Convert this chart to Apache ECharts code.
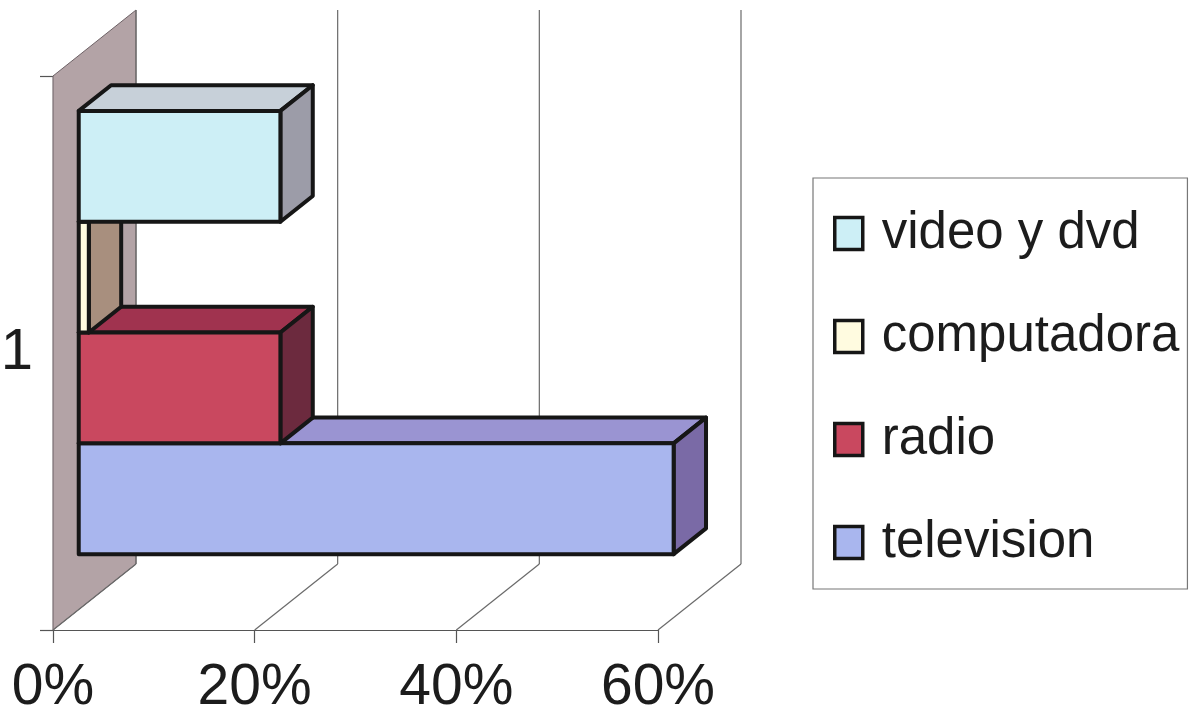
<!DOCTYPE html>
<html>
<head>
<meta charset="utf-8">
<script src="https://cdn.jsdelivr.net/npm/echarts@6/dist/echarts.min.js"></script>
<style>
  html, body { margin: 0; padding: 0; background: #fff; }
  #chart { width: 1195px; height: 724px; }
</style>
</head>
<body>
<div id="chart"></div>
<script>
// datos del grafico
const categories = ['1']
const seriesNames = ['television', 'radio', 'computadora', 'video y dvd']
const seriesValues = [0.59, 0.20, 0.01, 0.20]
const legendOrder = ['video y dvd', 'computadora', 'radio', 'television']
const tickValues = [0, 0.2, 0.4, 0.6]

// colores: frente, arriba, lado
const faceColors = {
  'television': ['#a9b6ee', '#9a94d2', '#7a6aa6'],
  'radio': ['#c9485f', '#a0334f', '#6c2a3e'],
  'computadora': ['#fffbe0', '#d8ccb0', '#a88f7e'],
  'video y dvd': ['#cdeff6', '#c7d0d9', '#9c9ca8']
}

// profundidad 3D (px)
const DEPTH = [83, -66]
const FRONT = 0.31
const BACK = 0.70

const chart = echarts.init(document.getElementById('chart'))

const barSeries = seriesNames.map((name, i) => ({
  name,
  type: 'custom',
  z: 3,
  itemStyle: { color: faceColors[name][0] },
  data: [[seriesValues[i], 0]],
  encode: { x: 0, y: 1 },
  renderItem: (params, api) => {
    const v = api.value(0)
    const p0 = api.coord([0, 0])
    const p1 = api.coord([v, 0])
    const band = api.size([0, 1])[1]
    const slot = legendOrder.indexOf(name)
    const fx = FRONT * DEPTH[0], fy = FRONT * DEPTH[1]
    const dx = (BACK - FRONT) * DEPTH[0], dy = (BACK - FRONT) * DEPTH[1]
    const x0 = p0[0] + fx
    const x1 = p1[0] + fx
    const y0 = p0[1] - 0.4 * band + slot * 0.2 * band + fy
    const y1 = y0 + 0.2 * band
    const c = faceColors[name]
    const stroke = { stroke: '#161616', lineWidth: 4, lineJoin: 'round' }
    return {
      type: 'group',
      children: [
        {
          type: 'polygon',
          shape: { points: [[x0, y0], [x1, y0], [x1 + dx, y0 + dy], [x0 + dx, y0 + dy]] },
          style: Object.assign({ fill: c[1] }, stroke)
        },
        {
          type: 'polygon',
          shape: { points: [[x1, y0], [x1 + dx, y0 + dy], [x1 + dx, y1 + dy], [x1, y1]] },
          style: Object.assign({ fill: c[2] }, stroke)
        },
        {
          type: 'rect',
          shape: { x: x0, y: y0, width: x1 - x0, height: y1 - y0 },
          style: Object.assign({ fill: c[0] }, stroke)
        }
      ]
    }
  }
}))

// paredes y lineas de fondo
const wallSeries = {
  name: 'walls',
  type: 'custom',
  z: 1,
  silent: true,
  data: tickValues.map(t => [t, 0]),
  encode: { x: 0, y: 1 },
  renderItem: (params, api) => {
    const t = api.value(0)
    const p = api.coord([t, 0])
    const band = api.size([0, 1])[1]
    const top = p[1] - band / 2
    const bottom = p[1] + band / 2
    const children = []
    if (t === 0) {
      children.push({
        type: 'polygon',
        shape: { points: [[p[0], top], [p[0] + DEPTH[0], top + DEPTH[1]], [p[0] + DEPTH[0], bottom + DEPTH[1]], [p[0], bottom]] },
        style: { fill: '#b3a3a6', stroke: '#6e6266', lineWidth: 1 }
      })
    }
    children.push({
      type: 'line',
      shape: { x1: p[0] + DEPTH[0], y1: top + DEPTH[1], x2: p[0] + DEPTH[0], y2: bottom + DEPTH[1] },
      style: { stroke: '#6a6a6a', lineWidth: 1.2 }
    })
    children.push({
      type: 'line',
      shape: { x1: p[0], y1: bottom, x2: p[0] + DEPTH[0], y2: bottom + DEPTH[1] },
      style: { stroke: '#6a6a6a', lineWidth: 1.2 }
    })
    return { type: 'group', children }
  }
}

const option = {
  backgroundColor: '#ffffff',
  animation: false,
  grid: { left: 53, right: 537, top: 76, bottom: 94, containLabel: false, outerBoundsMode: 'none' },
  xAxis: {
    type: 'value',
    min: 0,
    max: 0.6,
    interval: 0.2,
    axisLine: { show: true, lineStyle: { color: '#555', width: 1.2 } },
    axisTick: { show: true, length: 13, lineStyle: { color: '#555', width: 1.2 } },
    splitLine: { show: false },
    axisLabel: {
      margin: 30,
      fontSize: 57,
      fontFamily: '"Liberation Sans", Arial, sans-serif',
      color: '#1c1c1c',
      formatter: v => Math.round(v * 100) + '%'
    }
  },
  yAxis: {
    type: 'category',
    data: categories,
    axisLine: { show: true, lineStyle: { color: '#555', width: 1.2 } },
    axisTick: { show: true, length: 13, lineStyle: { color: '#555', width: 1.2 } },
    axisLabel: {
      margin: 20,
      fontSize: 58,
      fontFamily: '"Liberation Sans", Arial, sans-serif',
      color: '#1c1c1c'
    }
  },
  legend: {
    orient: 'vertical',
    left: 813,
    top: 178,
    padding: [30, 8, 21, 20],
    itemGap: 52,
    itemWidth: 28,
    itemHeight: 32,
    borderColor: '#777',
    borderWidth: 1.2,
    borderRadius: 0,
    selectedMode: false,
    textStyle: {
      fontSize: 51,
      fontFamily: '"Liberation Sans", Arial, sans-serif',
      color: '#1c1c1c',
      padding: [0, 0, 0, 14]
    },
    data: legendOrder.map(name => ({
      name,
      icon: 'rect',
      itemStyle: { color: faceColors[name][0], borderColor: '#161616', borderWidth: 3.5 }
    }))
  },
  series: [wallSeries].concat(barSeries)
}

chart.setOption(option)
</script>
</body>
</html>
